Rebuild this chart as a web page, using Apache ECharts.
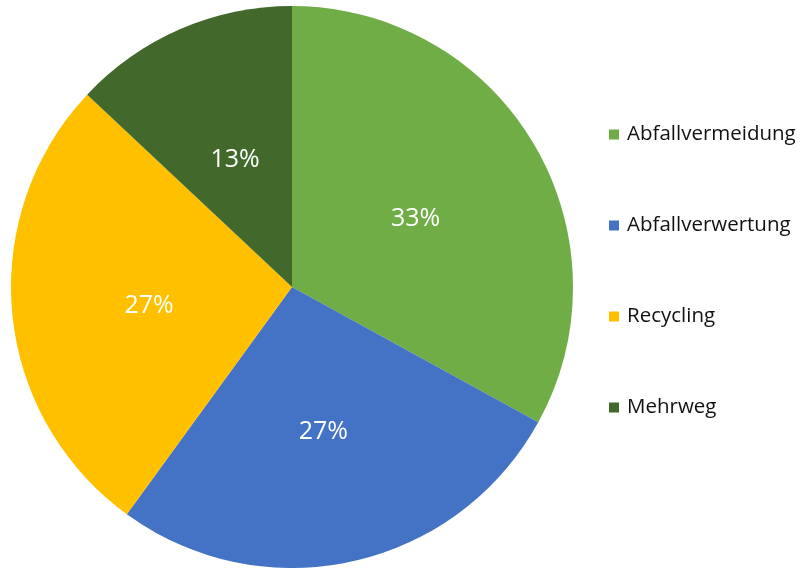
<!DOCTYPE html>
<html>
<head>
<meta charset="utf-8">
<script src="https://cdn.jsdelivr.net/npm/echarts@6/dist/echarts.min.js"></script>
<style>
  html, body { margin: 0; padding: 0; background: #ffffff; }
  #chart { width: 800px; height: 571px; }
</style>
</head>
<body>
<div id="chart"></div>
<script>
// Anteile der Maßnahmen (in Prozent)
const categories = ['Abfallvermeidung', 'Abfallverwertung', 'Recycling', 'Mehrweg'];
const shares = [33, 27, 27, 13];
const colors = ['#70AD47', '#4472C4', '#FFC000', '#43682B'];

const FONT = '"Open Sans", "Liberation Sans", sans-serif';

const chart = echarts.init(document.getElementById('chart'), null, { renderer: 'canvas' });

chart.setOption({
  animation: false,
  backgroundColor: '#ffffff',
  color: colors,
  legend: {
    orient: 'vertical',
    left: 604,
    top: 119,
    itemWidth: 10,
    itemHeight: 10,
    itemGap: 70,
    icon: 'rect',
    textStyle: { fontFamily: FONT, fontSize: 20.5, color: '#111111', lineHeight: 21, padding: [0, 0, 0, 3] },
    data: categories
  },
  series: [{
    type: 'pie',
    center: [292, 287],
    radius: 281,
    startAngle: 90,
    clockwise: true,
    avoidLabelOverlap: false,
    label: {
      show: true,
      position: 'inside',
      formatter: '{d}%',
      fontFamily: FONT,
      fontSize: 25,
      color: '#ffffff'
    },
    labelLayout: { dy: 5 },
    labelLine: { show: false },
    itemStyle: { borderWidth: 0 },
    emphasis: { disabled: true },
    data: categories.map((name, i) => ({ name: name, value: shares[i] }))
  }]
});
</script>
</body>
</html>
